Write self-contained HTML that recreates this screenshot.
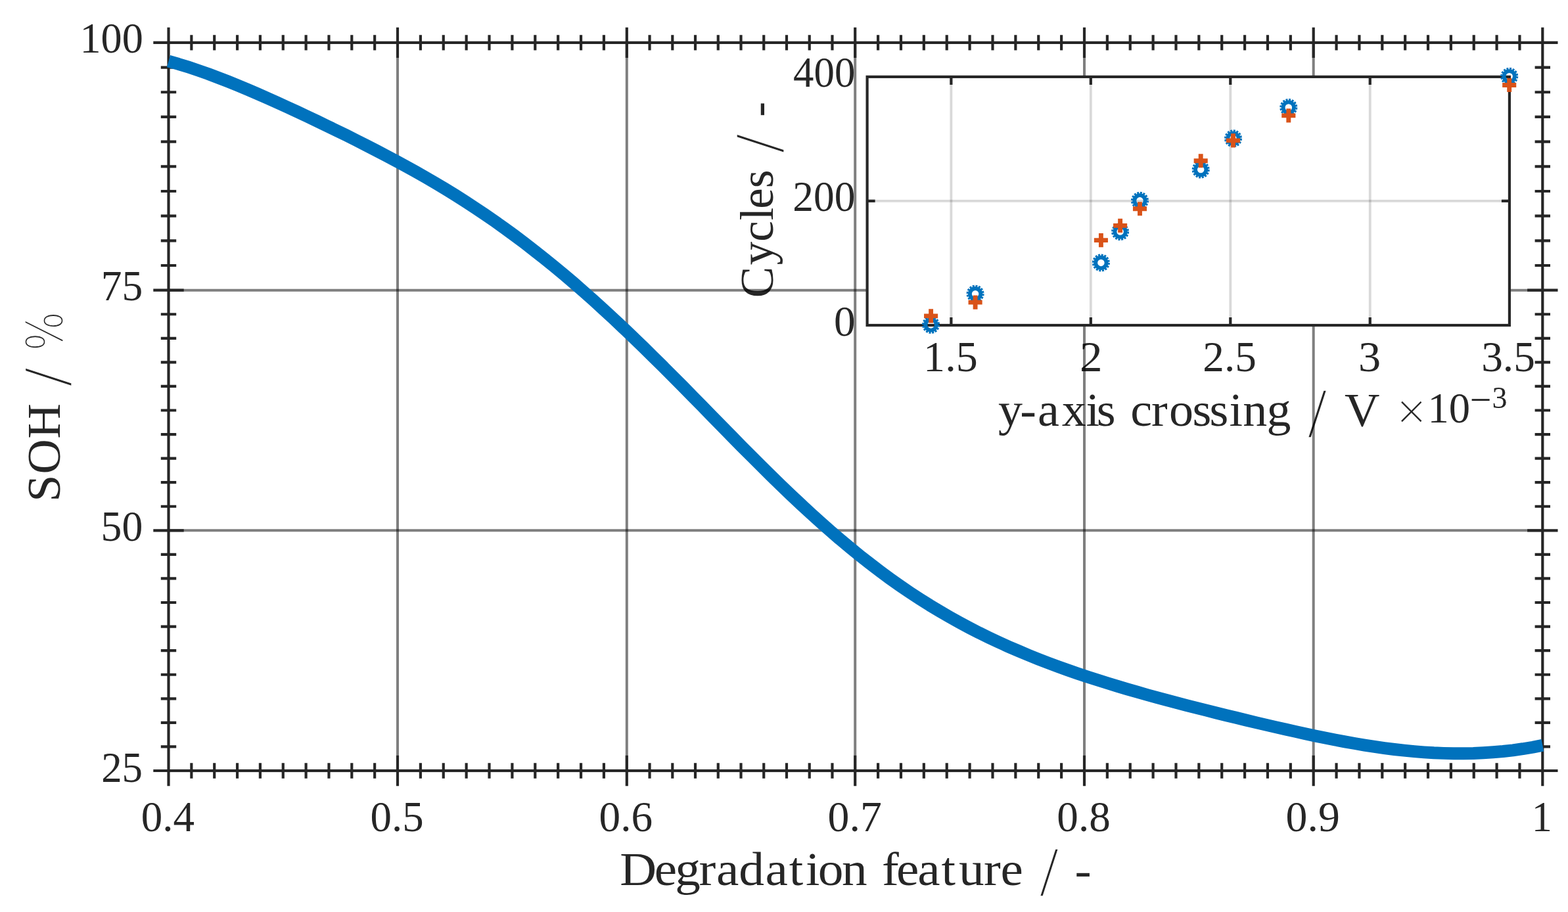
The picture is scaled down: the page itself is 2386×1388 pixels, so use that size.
<!DOCTYPE html>
<html lang="en"><head><meta charset="utf-8"><title>SOH vs degradation feature</title>
<style>html,body{margin:0;padding:0;background:#fff}body{width:2386px;height:1388px;overflow:hidden}svg{display:block}text{font-family:"Liberation Serif","DejaVu Serif",serif;white-space:pre}.t{font-family:"DejaVu Sans Light","DejaVu Sans","Liberation Sans",sans-serif}.s{stroke:#fff;stroke-width:1.8px}.s2{stroke:#fff;stroke-width:.9px}</style></head><body>
<svg width="2386" height="1388" viewBox="0 0 2386 1388">
<rect width="2386" height="1388" fill="#fff"/>
<text transform="matrix(0.64264 0 0 0.65000 121.452 79.900)" font-size="100" fill="#262626"><tspan x="0.00 50.00 100.00" y="0">100</tspan></text>
<text transform="matrix(0.63462 0 0 0.65000 153.817 457.300)" font-size="100" fill="#262626"><tspan x="0.00 50.00" y="0">75</tspan></text>
<text transform="matrix(0.63620 0 0 0.65000 153.603 823.200)" font-size="100" fill="#262626"><tspan x="0.00 50.00" y="0">50</tspan></text>
<text transform="matrix(0.62923 0 0 0.65000 154.135 1189.800)" font-size="100" fill="#262626"><tspan x="0.00 50.00" y="0">25</tspan></text>
<text transform="matrix(0.65034 0 0 0.65000 214.823 1265.200)" font-size="100" fill="#262626"><tspan x="0.00 50.00 75.00" y="0">0.4</tspan></text>
<text transform="matrix(0.64885 0 0 0.65000 563.529 1265.200)" font-size="100" fill="#262626"><tspan x="0.00 50.00 75.00" y="0">0.5</tspan></text>
<text transform="matrix(0.65221 0 0 0.65000 911.616 1265.200)" font-size="100" fill="#262626"><tspan x="0.00 50.00 75.00" y="0">0.6</tspan></text>
<text transform="matrix(0.65759 0 0 0.65000 1259.596 1265.200)" font-size="100" fill="#262626"><tspan x="0.00 50.00 75.00" y="0">0.7</tspan></text>
<text transform="matrix(0.65171 0 0 0.65000 1608.318 1265.200)" font-size="100" fill="#262626"><tspan x="0.00 50.00 75.00" y="0">0.8</tspan></text>
<text transform="matrix(0.65761 0 0 0.65000 1956.595 1265.200)" font-size="100" fill="#262626"><tspan x="0.00 50.00 75.00" y="0">0.9</tspan></text>
<text transform="matrix(0.62207 0 0 0.65000 2330.833 1264.600)" font-size="100" fill="#262626"><tspan x="0.00" y="0">1</tspan></text>
<text transform="matrix(0.77327 0 0 0.72000 943.196 1347.100)" font-size="100" fill="#262626"><tspan x="0.00 67.92 108.72 155.46 189.71 234.06 286.19 333.17 365.65 389.96 437.00 493.75 515.80 544.24 585.82 632.80 667.15 716.33 749.11 800.24" y="0">Degradation feature </tspan><tspan x="824.77" y="13.02" font-size="120.17" class="t s" textLength="39.91" lengthAdjust="spacingAndGlyphs">/</tspan><tspan x="872.66" y="0"> </tspan><tspan x="895.29" y="1.67" font-size="97.58">-</tspan></text>
<text transform="matrix(0 -0.73890 0.72300 0 90.850 763.843)" font-size="100" fill="#262626"><tspan x="0.00 57.26 130.35 210.91" y="0">SOH </tspan><tspan x="236.74" y="13.82" font-size="118.66" class="t s" textLength="41.32" lengthAdjust="spacingAndGlyphs">/</tspan><tspan x="286.70" y="0"> </tspan><tspan x="310.37" y="6.03" font-size="106.80" class="t s" textLength="82.13" lengthAdjust="spacingAndGlyphs">%</tspan></text>
<text transform="matrix(0.62813 0 0 0.65000 1207.073 132.400)" font-size="100" fill="#262626"><tspan x="0.00 50.00 100.00" y="0">400</tspan></text>
<text transform="matrix(0.63330 0 0 0.65000 1206.317 320.600)" font-size="100" fill="#262626"><tspan x="0.00 50.00 100.00" y="0">200</tspan></text>
<text transform="matrix(0.65121 0 0 0.65000 1268.920 511.100)" font-size="100" fill="#262626"><tspan x="0.00" y="0">0</tspan></text>
<text transform="matrix(0.66070 0 0 0.65000 1405.093 565.400)" font-size="100" fill="#262626"><tspan x="0.00 50.00 75.00" y="0">1.5</tspan></text>
<text transform="matrix(0.69098 0 0 0.65000 1642.963 565.400)" font-size="100" fill="#262626"><tspan x="0.00" y="0">2</tspan></text>
<text transform="matrix(0.65210 0 0 0.65000 1830.334 565.400)" font-size="100" fill="#262626"><tspan x="0.00 50.00 75.00" y="0">2.5</tspan></text>
<text transform="matrix(0.68267 0 0 0.65000 2066.933 565.400)" font-size="100" fill="#262626"><tspan x="0.00" y="0">3</tspan></text>
<text transform="matrix(0.65429 0 0 0.65000 2254.169 565.400)" font-size="100" fill="#262626"><tspan x="0.00 50.00 75.00" y="0">3.5</tspan></text>
<text transform="matrix(0 -0.71229 0.72000 0 1175.800 453.322)" font-size="100" fill="#262626"><tspan x="0.00 70.13 120.19 165.52 190.29 234.59 282.64" y="0">Cycles </tspan><tspan x="308.41" y="13.25" font-size="120.67" class="t s" textLength="43.64" lengthAdjust="spacingAndGlyphs">/</tspan><tspan x="361.26" y="0"> </tspan><tspan x="387.03" y="1.21" font-size="96.20">-</tspan></text>
<text transform="matrix(0.74019 0 0 0.71000 1519.004 647.800)" font-size="100" fill="#262626"><tspan x="0.00 44.79 81.22 130.57 180.31 202.37 247.23 272.03 314.89 351.30 399.13 434.52 474.74 502.86 551.82 609.29" y="0">y-axis crossing </tspan><tspan x="634.91" y="13.97" font-size="122.72" class="t s" textLength="42.00" lengthAdjust="spacingAndGlyphs">/</tspan><tspan x="684.95 711.93" y="0"> V</tspan></text>
<text transform="matrix(0.64644 0 0 0.65000 2121.718 643.000)" font-size="100" fill="#262626"><tspan x="0.00" y="4.82" font-size="96.12" class="t s2">×</tspan><tspan x="78.59 128.59" y="0">10</tspan><tspan x="177.89" y="-22.97" font-size="89.76">−</tspan><tspan x="230.31" y="-33.93" font-size="71.21">3</tspan></text>
<g stroke="#000" stroke-opacity="0.5" stroke-width="4" fill="none"><line x1="605.00" y1="64.90" x2="605.00" y2="1173.00"/><line x1="953.80" y1="64.90" x2="953.80" y2="1173.00"/><line x1="1301.20" y1="64.90" x2="1301.20" y2="1173.00"/><line x1="1650.00" y1="64.90" x2="1650.00" y2="1173.00"/><line x1="1998.70" y1="64.90" x2="1998.70" y2="1173.00"/><line x1="256.50" y1="441.70" x2="2347.30" y2="441.70"/><line x1="256.50" y1="807.30" x2="2347.30" y2="807.30"/></g>
<g stroke="#262626" stroke-width="4.17" fill="none" stroke-linecap="butt"><rect x="256.50" y="64.90" width="2090.80" height="1108.10"/><path d="M256.50 64.90V41.70M256.50 1173.00V1196.20M291.35 53.20V76.60M291.35 1161.30V1184.70M326.20 53.20V76.60M326.20 1161.30V1184.70M361.05 53.20V76.60M361.05 1161.30V1184.70M395.90 53.20V76.60M395.90 1161.30V1184.70M430.75 53.20V76.60M430.75 1161.30V1184.70M465.60 53.20V76.60M465.60 1161.30V1184.70M500.45 53.20V76.60M500.45 1161.30V1184.70M535.30 53.20V76.60M535.30 1161.30V1184.70M570.15 53.20V76.60M570.15 1161.30V1184.70M605.00 41.70V88.10M605.00 1149.80V1196.20M639.88 53.20V76.60M639.88 1161.30V1184.70M674.76 53.20V76.60M674.76 1161.30V1184.70M709.64 53.20V76.60M709.64 1161.30V1184.70M744.52 53.20V76.60M744.52 1161.30V1184.70M779.40 53.20V76.60M779.40 1161.30V1184.70M814.28 53.20V76.60M814.28 1161.30V1184.70M849.16 53.20V76.60M849.16 1161.30V1184.70M884.04 53.20V76.60M884.04 1161.30V1184.70M918.92 53.20V76.60M918.92 1161.30V1184.70M953.80 41.70V88.10M953.80 1149.80V1196.20M988.54 53.20V76.60M988.54 1161.30V1184.70M1023.28 53.20V76.60M1023.28 1161.30V1184.70M1058.02 53.20V76.60M1058.02 1161.30V1184.70M1092.76 53.20V76.60M1092.76 1161.30V1184.70M1127.50 53.20V76.60M1127.50 1161.30V1184.70M1162.24 53.20V76.60M1162.24 1161.30V1184.70M1196.98 53.20V76.60M1196.98 1161.30V1184.70M1231.72 53.20V76.60M1231.72 1161.30V1184.70M1266.46 53.20V76.60M1266.46 1161.30V1184.70M1301.20 41.70V88.10M1301.20 1149.80V1196.20M1336.08 53.20V76.60M1336.08 1161.30V1184.70M1370.96 53.20V76.60M1370.96 1161.30V1184.70M1405.84 53.20V76.60M1405.84 1161.30V1184.70M1440.72 53.20V76.60M1440.72 1161.30V1184.70M1475.60 53.20V76.60M1475.60 1161.30V1184.70M1510.48 53.20V76.60M1510.48 1161.30V1184.70M1545.36 53.20V76.60M1545.36 1161.30V1184.70M1580.24 53.20V76.60M1580.24 1161.30V1184.70M1615.12 53.20V76.60M1615.12 1161.30V1184.70M1650.00 41.70V88.10M1650.00 1149.80V1196.20M1684.87 53.20V76.60M1684.87 1161.30V1184.70M1719.74 53.20V76.60M1719.74 1161.30V1184.70M1754.61 53.20V76.60M1754.61 1161.30V1184.70M1789.48 53.20V76.60M1789.48 1161.30V1184.70M1824.35 53.20V76.60M1824.35 1161.30V1184.70M1859.22 53.20V76.60M1859.22 1161.30V1184.70M1894.09 53.20V76.60M1894.09 1161.30V1184.70M1928.96 53.20V76.60M1928.96 1161.30V1184.70M1963.83 53.20V76.60M1963.83 1161.30V1184.70M1998.70 41.70V88.10M1998.70 1149.80V1196.20M2033.56 53.20V76.60M2033.56 1161.30V1184.70M2068.42 53.20V76.60M2068.42 1161.30V1184.70M2103.28 53.20V76.60M2103.28 1161.30V1184.70M2138.14 53.20V76.60M2138.14 1161.30V1184.70M2173.00 53.20V76.60M2173.00 1161.30V1184.70M2207.86 53.20V76.60M2207.86 1161.30V1184.70M2242.72 53.20V76.60M2242.72 1161.30V1184.70M2277.58 53.20V76.60M2277.58 1161.30V1184.70M2312.44 53.20V76.60M2312.44 1161.30V1184.70M2347.30 64.90V41.70M2347.30 1173.00V1196.20M256.50 64.90H233.30M2347.30 64.90H2370.50M244.80 102.58H268.20M2335.60 102.58H2359.00M244.80 140.26H268.20M2335.60 140.26H2359.00M244.80 177.94H268.20M2335.60 177.94H2359.00M244.80 215.62H268.20M2335.60 215.62H2359.00M244.80 253.30H268.20M2335.60 253.30H2359.00M244.80 290.98H268.20M2335.60 290.98H2359.00M244.80 328.66H268.20M2335.60 328.66H2359.00M244.80 366.34H268.20M2335.60 366.34H2359.00M244.80 404.02H268.20M2335.60 404.02H2359.00M233.30 441.70H279.70M2324.10 441.70H2370.50M244.80 478.26H268.20M2335.60 478.26H2359.00M244.80 514.82H268.20M2335.60 514.82H2359.00M244.80 551.38H268.20M2335.60 551.38H2359.00M244.80 587.94H268.20M2335.60 587.94H2359.00M244.80 624.50H268.20M2335.60 624.50H2359.00M244.80 661.06H268.20M2335.60 661.06H2359.00M244.80 697.62H268.20M2335.60 697.62H2359.00M244.80 734.18H268.20M2335.60 734.18H2359.00M244.80 770.74H268.20M2335.60 770.74H2359.00M233.30 807.30H279.70M2324.10 807.30H2370.50M244.80 843.87H268.20M2335.60 843.87H2359.00M244.80 880.44H268.20M2335.60 880.44H2359.00M244.80 917.01H268.20M2335.60 917.01H2359.00M244.80 953.58H268.20M2335.60 953.58H2359.00M244.80 990.15H268.20M2335.60 990.15H2359.00M244.80 1026.72H268.20M2335.60 1026.72H2359.00M244.80 1063.29H268.20M2335.60 1063.29H2359.00M244.80 1099.86H268.20M2335.60 1099.86H2359.00M244.80 1136.43H268.20M2335.60 1136.43H2359.00M256.50 1173.00H233.30M2347.30 1173.00H2370.50"/></g>
<path d="M256.5 93.2 L271.5 97.4 L286.6 102.1 L301.6 107.1 L316.7 112.4 L331.7 118.1 L346.8 123.9 L361.8 130.0 L376.8 136.3 L391.9 142.8 L406.9 149.4 L422.0 156.1 L437.0 163.0 L452.0 169.9 L467.1 177.0 L482.1 184.1 L497.2 191.4 L512.2 198.7 L527.3 206.1 L542.3 213.6 L557.3 221.2 L572.4 229.0 L587.4 236.8 L602.5 244.8 L617.5 253.0 L632.5 261.3 L647.6 269.9 L662.6 278.6 L677.7 287.7 L692.7 296.9 L707.8 306.5 L722.8 316.3 L737.8 326.4 L752.9 336.8 L767.9 347.5 L783.0 358.5 L798.0 369.8 L813.0 381.4 L828.1 393.3 L843.1 405.5 L858.2 418.0 L873.2 430.8 L888.3 444.0 L903.3 457.3 L918.3 471.0 L933.4 484.9 L948.4 499.0 L963.5 513.4 L978.5 527.9 L993.5 542.7 L1008.6 557.6 L1023.6 572.7 L1038.7 587.8 L1053.7 603.1 L1068.8 618.4 L1083.8 633.8 L1098.8 649.2 L1113.9 664.5 L1128.9 679.8 L1144.0 694.9 L1159.0 709.9 L1174.0 724.8 L1189.1 739.5 L1204.1 753.9 L1219.2 768.0 L1234.2 781.9 L1249.3 795.5 L1264.3 808.8 L1279.3 821.7 L1294.4 834.3 L1309.4 846.5 L1324.5 858.3 L1339.5 869.7 L1354.5 880.8 L1369.6 891.5 L1384.6 901.7 L1399.7 911.6 L1414.7 921.1 L1429.8 930.2 L1444.8 938.9 L1459.8 947.3 L1474.9 955.4 L1489.9 963.1 L1505.0 970.4 L1520.0 977.5 L1535.0 984.3 L1550.1 990.8 L1565.1 997.1 L1580.2 1003.2 L1595.2 1009.0 L1610.3 1014.6 L1625.3 1020.0 L1640.3 1025.2 L1655.4 1030.2 L1670.4 1035.1 L1685.5 1039.8 L1700.5 1044.4 L1715.5 1048.9 L1730.6 1053.2 L1745.6 1057.5 L1760.7 1061.6 L1775.7 1065.7 L1790.8 1069.7 L1805.8 1073.6 L1820.8 1077.4 L1835.9 1081.2 L1850.9 1085.0 L1866.0 1088.7 L1881.0 1092.3 L1896.0 1096.0 L1911.1 1099.6 L1926.1 1103.1 L1941.2 1106.6 L1956.2 1110.0 L1971.3 1113.4 L1986.3 1116.7 L2001.3 1119.9 L2016.4 1123.0 L2031.4 1126.0 L2046.5 1128.9 L2061.5 1131.5 L2076.5 1134.1 L2091.6 1136.4 L2106.6 1138.6 L2121.7 1140.5 L2136.7 1142.2 L2151.8 1143.6 L2166.8 1144.8 L2181.8 1145.8 L2196.9 1146.4 L2211.9 1146.7 L2227.0 1146.8 L2242.0 1146.5 L2257.0 1145.8 L2272.1 1144.8 L2287.1 1143.5 L2302.2 1141.8 L2317.2 1139.7 L2332.3 1137.2 L2347.3 1134.3" fill="none" stroke="#0072BD" stroke-width="18.9" stroke-linejoin="round" stroke-linecap="butt"/>
<rect x="1319.60" y="116.90" width="977.30" height="378.10" fill="#fff"/>
<g stroke="#000" stroke-opacity="0.15" stroke-width="3.8" fill="none"><line x1="1447.37" y1="116.90" x2="1447.37" y2="495.00"/><line x1="1659.83" y1="116.90" x2="1659.83" y2="495.00"/><line x1="1872.29" y1="116.90" x2="1872.29" y2="495.00"/><line x1="2084.74" y1="116.90" x2="2084.74" y2="495.00"/><line x1="1319.60" y1="305.95" x2="2296.90" y2="305.95"/></g>
<g stroke="#262626" stroke-width="4.17" fill="none"><rect x="1319.60" y="116.90" width="977.30" height="378.10"/><path d="M1447.37 116.90v12.00M1447.37 495.00v-12.00M1659.83 116.90v12.00M1659.83 495.00v-12.00M1872.29 116.90v12.00M1872.29 495.00v-12.00M2084.74 116.90v12.00M2084.74 495.00v-12.00M1319.60 305.95h12.00M2296.90 305.95h-12.00"/></g>
<g fill="none" stroke="#0072BD"><circle cx="1416.60" cy="494.40" r="8.2" stroke-width="5.9"/><circle cx="1416.60" cy="494.40" r="12.1" stroke-width="2.8" stroke-dasharray="3.05 1.70"/><circle cx="1484.10" cy="447.14" r="8.2" stroke-width="5.9"/><circle cx="1484.10" cy="447.14" r="12.1" stroke-width="2.8" stroke-dasharray="3.05 1.70"/><circle cx="1675.40" cy="399.88" r="8.2" stroke-width="5.9"/><circle cx="1675.40" cy="399.88" r="12.1" stroke-width="2.8" stroke-dasharray="3.05 1.70"/><circle cx="1704.60" cy="352.61" r="8.2" stroke-width="5.9"/><circle cx="1704.60" cy="352.61" r="12.1" stroke-width="2.8" stroke-dasharray="3.05 1.70"/><circle cx="1734.50" cy="305.35" r="8.2" stroke-width="5.9"/><circle cx="1734.50" cy="305.35" r="12.1" stroke-width="2.8" stroke-dasharray="3.05 1.70"/><circle cx="1827.20" cy="258.09" r="8.2" stroke-width="5.9"/><circle cx="1827.20" cy="258.09" r="12.1" stroke-width="2.8" stroke-dasharray="3.05 1.70"/><circle cx="1876.50" cy="210.82" r="8.2" stroke-width="5.9"/><circle cx="1876.50" cy="210.82" r="12.1" stroke-width="2.8" stroke-dasharray="3.05 1.70"/><circle cx="1960.80" cy="163.56" r="8.2" stroke-width="5.9"/><circle cx="1960.80" cy="163.56" r="12.1" stroke-width="2.8" stroke-dasharray="3.05 1.70"/><circle cx="2296.70" cy="116.30" r="8.2" stroke-width="5.9"/><circle cx="2296.70" cy="116.30" r="12.1" stroke-width="2.8" stroke-dasharray="3.05 1.70"/></g>
<g fill="none" stroke="#D95319" stroke-width="6.9"><path d="M1406.05 480.90h21.1M1416.60 470.35v21.1M1473.55 460.10h21.1M1484.10 449.55v21.1M1664.85 365.60h21.1M1675.40 355.05v21.1M1694.05 343.40h21.1M1704.60 332.85v21.1M1723.95 317.80h21.1M1734.50 307.25v21.1M1816.65 244.80h21.1M1827.20 234.25v21.1M1865.95 213.90h21.1M1876.50 203.35v21.1M1950.25 175.90h21.1M1960.80 165.35v21.1M2286.15 129.50h21.1M2296.70 118.95v21.1"/></g>
</svg></body></html>
